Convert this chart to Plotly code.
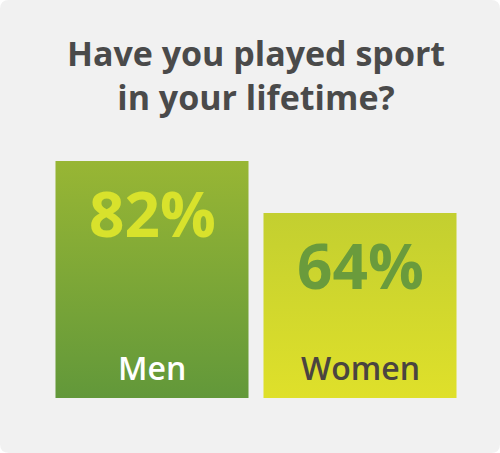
import plotly.graph_objects as go

categories = ['Men', 'Women']
values = [82, 64]
pct_labels = ['82%', '64%']
title_text = 'Have you played sport<br>in your lifetime?'

# styles
top_colors = ['#98b634', '#c3cf30']
bottom_colors = ['#62983a', '#dfe02a']
pct_colors = ['#d8e22c', '#6a9b3c']
name_colors = ['#ffffff', '#4a4440']
bar_width = 0.928
font = 'Open Sans'
W, H = 500, 453
ml, mr, mt, mb = 48, 36, 109, 55

fig = go.Figure()

for i, (cat, v) in enumerate(zip(categories, values)):
    x0, x1 = i - bar_width / 2, i + bar_width / 2
    fig.add_trace(go.Scatter(
        x=[x0, x1, x1, x0, x0],
        y=[0, 0, v, v, 0],
        mode='lines',
        line=dict(width=0),
        fill='toself',
        fillgradient=dict(type='vertical',
                          colorscale=[[0, bottom_colors[i]], [1, top_colors[i]]]),
        hoverinfo='skip',
        name=cat,
    ))
    fig.add_annotation(x=i, y=v, text='<b>%s</b>' % pct_labels[i],
                       showarrow=False, yanchor='middle', yshift=-52,
                       font=dict(family=font, size=62, color=pct_colors[i]))
    fig.add_annotation(x=i, y=0, text=cat,
                       showarrow=False, yanchor='middle', yshift=31,
                       font=dict(family=font, size=32, weight=600,
                                 color=name_colors[i]))


# rounded grey panel behind everything (pixel -> paper coords)
def px(x):
    return (x - ml) / (W - ml - mr)


def py(y):
    return (H - mb - y) / (H - mt - mb)


r = 9
path = ('M %f,%f L %f,%f Q %f,%f %f,%f L %f,%f Q %f,%f %f,%f '
        'L %f,%f Q %f,%f %f,%f L %f,%f Q %f,%f %f,%f Z') % (
    px(r), py(0), px(W - r), py(0), px(W), py(0), px(W), py(r),
    px(W), py(H - r), px(W), py(H), px(W - r), py(H),
    px(r), py(H), px(0), py(H), px(0), py(H - r),
    px(0), py(r), px(0), py(0), px(r), py(0))
fig.add_shape(type='path', xref='paper', yref='paper', path=path,
              fillcolor='#f1f1f1', line=dict(width=0), layer='below')

fig.update_layout(
    width=W, height=H,
    margin=dict(l=ml, r=mr, t=mt, b=mb),
    paper_bgcolor='#ffffff',
    plot_bgcolor='rgba(0,0,0,0)',
    showlegend=False,
    title=dict(text='<b>%s</b>' % title_text, x=0.512, xanchor='center',
               y=0.855, yanchor='middle',
               font=dict(family=font, size=34, color='#4a4a4a')),
    xaxis=dict(range=[-0.5, 1.5], visible=False, fixedrange=True),
    yaxis=dict(range=[0, 100], visible=False, fixedrange=True),
)

fig.write_html("out.html", config={'displayModeBar': False},
               post_script="document.body.style.margin='0';")
